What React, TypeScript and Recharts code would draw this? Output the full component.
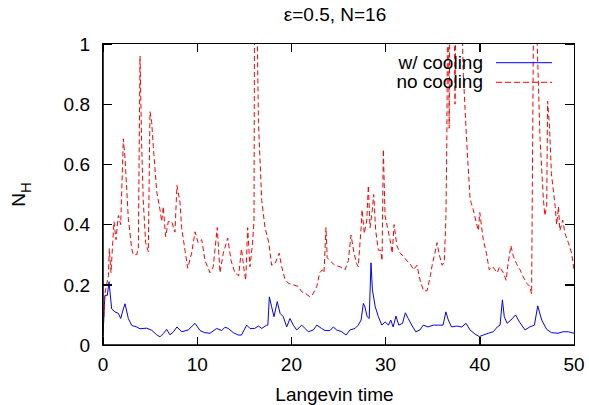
import React from "react";
import { LineChart, Line, XAxis, YAxis, Legend } from "recharts";

// cooled run (blue, solid)
const coolTimes = [
  0, 0.2, 0.46, 0.64, 0.92, 1.27, 1.63, 1.88, 2.16, 2.34, 2.69, 3.05, 3.58, 3.93, 4.64, 5.17, 5.7, 6.05, 6.4,
  6.76, 7.1, 7.46, 7.85, 8.35, 9.05, 9.77, 10.3, 10.8, 11.36, 12.07, 12.6, 12.95, 13.3, 13.83, 14.36, 14.7,
  15.25, 15.6, 16.1, 16.5, 16.85, 17.38, 17.5, 17.66, 17.9, 18.15, 18.5, 18.8, 19.14, 19.5, 19.85, 20.2, 20.56,
  21.1, 21.45, 21.8, 22.33, 22.7, 23.2, 23.57, 24.1, 24.45, 24.8, 25.35, 25.8, 26.22, 26.75, 27.1, 27.4, 27.64,
  27.8, 28.05, 28.26, 28.45, 28.6, 28.9, 29.23, 29.6, 29.94, 30.3, 30.55, 30.8, 31.1, 31.4, 31.8, 32.1, 32.4,
  32.78, 33.2, 33.65, 34.0, 34.5, 35.06, 35.6, 36.1, 36.4, 36.66, 37.0, 37.55, 38.08, 38.54, 38.96, 39.5,
  39.95, 40.37, 40.9, 41.43, 41.86, 42.15, 42.4, 42.6, 42.9, 43.3, 43.8, 44.2, 44.8, 45.3, 45.8, 46.15, 46.57,
  47.1, 47.6, 48.3, 48.85, 49.4, 50,
];
const coolValues = [
  0.03, 0.165, 0.165, 0.21, 0.12, 0.11, 0.105, 0.088, 0.12, 0.137, 0.088, 0.065, 0.06, 0.054, 0.056, 0.049,
  0.034, 0.027, 0.038, 0.052, 0.034, 0.043, 0.06, 0.044, 0.05, 0.072, 0.048, 0.041, 0.039, 0.055, 0.048, 0.059,
  0.055, 0.041, 0.033, 0.033, 0.066, 0.055, 0.055, 0.063, 0.055, 0.066, 0.066, 0.16, 0.127, 0.094, 0.144, 0.105,
  0.094, 0.06, 0.088, 0.066, 0.05, 0.066, 0.055, 0.044, 0.05, 0.066, 0.055, 0.048, 0.048, 0.06, 0.05, 0.044,
  0.033, 0.05, 0.055, 0.066, 0.083, 0.138, 0.127, 0.094, 0.088, 0.273, 0.183, 0.127, 0.094, 0.066, 0.077,
  0.066, 0.083, 0.06, 0.096, 0.066, 0.072, 0.107, 0.088, 0.066, 0.044, 0.05, 0.066, 0.06, 0.066, 0.066, 0.066,
  0.11, 0.083, 0.06, 0.063, 0.06, 0.072, 0.05, 0.036, 0.028, 0.033, 0.039, 0.044, 0.06, 0.066, 0.15, 0.094,
  0.072, 0.083, 0.1, 0.077, 0.05, 0.06, 0.066, 0.13, 0.083, 0.052, 0.041, 0.039, 0.044, 0.044, 0.039,
];

// uncooled run (red, dashed) - values above 1 run off the top of the frame
const hotTimes = [
  0, 0.2, 0.57, 0.67, 0.85, 1.03, 1.17, 1.38, 1.63, 1.88, 2.16, 2.34, 2.69, 3.05, 3.22, 3.58, 3.75, 3.93, 4.1,
  4.28, 4.53, 4.81, 4.99, 5.17, 5.34, 5.7, 6.05, 6.23, 6.4, 6.65, 6.93, 7.29, 7.64, 7.85, 8.17, 8.35, 8.7, 8.99,
  9.41, 9.77, 10.1, 10.48, 10.83, 11.36, 11.7, 12.13, 12.42, 12.77, 13.24, 13.6, 14.0, 14.4, 14.7, 14.97, 15.15,
  15.36, 15.6, 15.85, 16.03, 16.1, 16.35, 16.5, 16.85, 17.2, 17.6, 17.9, 18.26, 18.7, 18.97, 19.3, 19.67, 20.2,
  20.7, 21.1, 21.55, 21.97, 22.3, 22.7, 23.0, 23.3, 23.46, 23.67, 23.8, 24.1, 24.6, 25.16, 25.7, 26.04, 26.33,
  26.65, 26.93, 27.1, 27.4, 27.5, 27.74, 28.0, 28.17, 28.35, 28.56, 28.74, 28.95, 29.23, 29.48, 29.62, 29.76,
  29.94, 30.2, 30.47, 30.7, 30.9, 31.2, 31.53, 31.9, 32.25, 32.6, 32.98, 33.33, 33.7, 34.04, 34.4, 34.75, 35.0,
  35.2, 35.46, 35.7, 36.0, 36.23, 36.4, 36.5, 36.62, 36.75, 36.85, 37.25, 37.37, 37.5, 38.08, 38.25, 38.6,
  38.96, 39.1, 39.3, 39.6, 39.85, 40.0, 40.2, 40.37, 40.7, 41.0, 41.37, 41.6, 41.85, 42.1, 42.5, 42.8, 43.0,
  43.3, 43.56, 43.9, 44.27, 44.6, 44.98, 45.3, 45.5, 45.75, 46.0, 46.4, 46.74, 46.9, 47.1, 47.2, 47.4, 47.6,
  48.0, 48.16, 48.35, 48.5, 48.8, 49.05, 49.4, 49.75, 50,
];
const hotValues = [
  0.04, 0.17, 0.23, 0.32, 0.24, 0.34, 0.41, 0.35, 0.43, 0.4, 0.685, 0.62, 0.42, 0.32, 0.3, 0.3, 0.32, 0.96, 0.67,
  0.475, 0.34, 0.31, 0.775, 0.74, 0.66, 0.51, 0.45, 0.41, 0.46, 0.36, 0.41, 0.41, 0.375, 0.53, 0.475, 0.39, 0.315,
  0.255, 0.305, 0.376, 0.34, 0.35, 0.28, 0.24, 0.26, 0.39, 0.24, 0.305, 0.355, 0.28, 0.24, 0.23, 0.32, 0.25, 0.215,
  0.39, 0.26, 0.33, 0.41, 1.3, 1.1, 0.74, 0.48, 0.39, 0.34, 0.265, 0.27, 0.305, 0.26, 0.22, 0.205, 0.2, 0.195,
  0.177, 0.17, 0.16, 0.17, 0.195, 0.24, 0.25, 0.24, 0.39, 0.29, 0.28, 0.265, 0.26, 0.25, 0.28, 0.365, 0.305, 0.27,
  0.26, 0.39, 0.45, 0.37, 0.415, 0.53, 0.39, 0.44, 0.5, 0.38, 0.315, 0.315, 0.28, 0.65, 0.43, 0.39, 0.35, 0.305,
  0.4, 0.33, 0.305, 0.295, 0.28, 0.27, 0.25, 0.265, 0.21, 0.18, 0.18, 0.23, 0.275, 0.3, 0.34, 0.3, 0.265, 0.275,
  0.42, 0.675, 1.3, 0.72, 1.3, 1.3, 0.8, 1.3, 1.1, 0.9, 0.68, 0.49, 0.47, 0.45, 0.41, 0.38, 0.44, 0.39, 0.35,
  0.305, 0.25, 0.26, 0.25, 0.24, 0.26, 0.24, 0.215, 0.27, 0.33, 0.295, 0.27, 0.25, 0.227, 0.205, 0.195, 0.17, 1.3,
  1.1, 0.68, 0.49, 0.43, 0.46, 0.81, 0.725, 0.57, 0.46, 0.4, 0.46, 0.38, 0.415, 0.37, 0.34, 0.305, 0.25,
];

const seriesNames = ["w/ cooling", "no cooling"];
const xTicks = [0, 10, 20, 30, 40, 50];
const yTicks = [0, 0.2, 0.4, 0.6, 0.8, 1];
const X_DOMAIN = [0, 50];
const Y_DOMAIN = [0, 1];

const coolData = coolTimes.map((t, i) => ({ t, v: coolValues[i] }));
const hotData = hotTimes.map((t, i) => ({ t, v: hotValues[i] }));

const FONT = "'Liberation Sans', Arial, Helvetica, sans-serif";
const INK = "#000";
const tickStyle = { fill: INK, fontSize: 19, fontFamily: FONT };
const TICK_LEN = 8;
const BORDER = 1.5;

const CHART_W = 589;
const CHART_H = 405;
const MARGIN = { top: 44, right: 15, bottom: 0, left: 0 };
const Y_AXIS_W = 103;
const X_AXIS_H = 60;
const PLOT_X = MARGIN.left + Y_AXIS_W;
const PLOT_Y = MARGIN.top;
const PLOT_W = CHART_W - MARGIN.left - MARGIN.right - Y_AXIS_W;
const PLOT_H = CHART_H - MARGIN.top - MARGIN.bottom - X_AXIS_H;

// fractions along each axis for the border ticks
const xFrac = (t: number) => (t - X_DOMAIN[0]) / (X_DOMAIN[1] - X_DOMAIN[0]);
const yFrac = (v: number) => (v - Y_DOMAIN[0]) / (Y_DOMAIN[1] - Y_DOMAIN[0]);

const bar = (style: React.CSSProperties): React.CSSProperties => ({
  position: "absolute",
  background: INK,
  ...style,
});

// gnuplot border: HTML box over the plot area with inward ticks on all sides
function Frame() {
  return (
    <div
      style={{
        position: "absolute",
        left: PLOT_X - BORDER / 2,
        top: PLOT_Y - BORDER / 2,
        width: PLOT_W,
        height: PLOT_H,
        border: `${BORDER}px solid ${INK}`,
        pointerEvents: "none",
        zIndex: 5,
      }}>
      {xTicks.map((t) => (
        <React.Fragment key={`x${t}`}>
          <div style={bar({ left: `calc(${xFrac(t) * 100}% - 0.6px)`, bottom: 0, width: 1.2, height: TICK_LEN })} />
          <div style={bar({ left: `calc(${xFrac(t) * 100}% - 0.6px)`, top: 0, width: 1.2, height: TICK_LEN })} />
        </React.Fragment>
      ))}
      {yTicks.map((v) => (
        <React.Fragment key={`y${v}`}>
          <div style={bar({ top: `calc(${(1 - yFrac(v)) * 100}% - 0.6px)`, left: 0, height: 1.2, width: TICK_LEN + 1 })} />
          <div style={bar({ top: `calc(${(1 - yFrac(v)) * 100}% - 0.6px)`, right: 0, height: 1.2, width: TICK_LEN + 1 })} />
        </React.Fragment>
      ))}
    </div>
  );
}

// legend drawn gnuplot-style: text right-aligned, sample line to the right
const renderLegend = (props: any) => {
  const items = [...(props.payload || [])].sort(
    (a: any, b: any) => seriesNames.indexOf(a.value) - seriesNames.indexOf(b.value)
  );
  return (
    <svg width={200} height={45} style={{ overflow: "visible" }}>
      {items.map((entry: any, i: number) => (
        <g key={entry.value}>
          <text x={103} y={18.6 + i * 19.6} textAnchor="end" fontSize={19} fontFamily={FONT} fill={INK}>
            {entry.value}
          </text>
          <line
            x1={116}
            x2={172}
            y1={12.7 + i * 19.6}
            y2={12.7 + i * 19.6}
            stroke={entry.color}
            strokeWidth={1}
            strokeDasharray={i === 1 ? "6 3" : undefined}
          />
        </g>
      ))}
    </svg>
  );
};

export default function App() {
  return (
    <div style={{ position: "absolute", left: 0, top: 0, width: CHART_W, height: CHART_H, background: "#fff" }}>
      <LineChart width={CHART_W} height={CHART_H} margin={MARGIN}>
        <XAxis
          dataKey="t"
          type="number"
          domain={X_DOMAIN}
          ticks={xTicks}
          height={X_AXIS_H}
          tickSize={0}
          tickLine={false}
          tickMargin={13}
          tick={tickStyle}
          axisLine={{ stroke: INK, strokeWidth: BORDER }}
          label={{
            content: ({ viewBox }: any) => (
              <text
                x={viewBox.x + viewBox.width / 2 - 4}
                y={viewBox.y + 55.5}
                textAnchor="middle"
                fontSize={19}
                fontFamily={FONT}
                fill={INK}>
                Langevin time
              </text>
            ),
          }}
        />
        <YAxis
          type="number"
          domain={Y_DOMAIN}
          allowDataOverflow
          ticks={yTicks}
          width={Y_AXIS_W}
          tickSize={0}
          tickLine={false}
          tickMargin={13}
          tick={tickStyle}
          axisLine={{ stroke: INK, strokeWidth: BORDER }}
          label={{
            content: ({ viewBox }: any) => (
              <text
                transform={`translate(25, ${viewBox.y + viewBox.height / 2}) rotate(-90)`}
                textAnchor="middle"
                fontSize={19}
                fontFamily={FONT}
                fill={INK}>
                N
                <tspan fontSize={15} dy={6}>
                  H
                </tspan>
              </text>
            ),
          }}
        />
        <Legend
          layout="vertical"
          align="center"
          verticalAlign="middle"
          wrapperStyle={{ top: 50, left: 380, width: 200, height: 45 }}
          content={renderLegend}
        />
        <Line
          data={coolData}
          dataKey="v"
          name={seriesNames[0]}
          type="linear"
          stroke="#0000ff"
          strokeWidth={1}
          dot={false}
          activeDot={false}
          isAnimationActive={false}
        />
        <Line
          data={hotData}
          dataKey="v"
          name={seriesNames[1]}
          type="linear"
          stroke="#ff0000"
          strokeWidth={1}
          strokeDasharray="5 3"
          dot={false}
          activeDot={false}
          isAnimationActive={false}
        />
      </LineChart>
      <Frame />
      <svg
        width={CHART_W}
        height={30}
        style={{ position: "absolute", left: 0, top: 0, pointerEvents: "none" }}>
        <text x={335} y={21} textAnchor="middle" fontSize={19} fontFamily={FONT} fill={INK}>
          ε=0.5, N=16
        </text>
      </svg>
    </div>
  );
}
